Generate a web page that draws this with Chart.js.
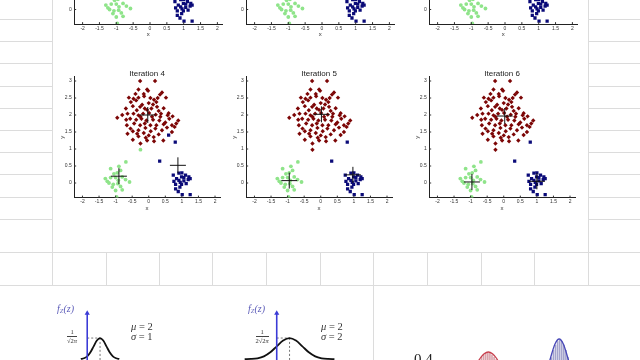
<!DOCTYPE html>
<html><head><meta charset="utf-8">
<script src="https://cdn.jsdelivr.net/npm/chart.js@4.4.1/dist/chart.umd.min.js"></script>
<style>
html,body{margin:0;padding:0;width:640px;height:360px;overflow:hidden;background:#fff;position:relative}
.rule{position:absolute;background:#dcdcdc}
canvas{display:block}
.t{position:absolute;white-space:nowrap;line-height:1;font-family:"Liberation Serif","DejaVu Serif",serif;color:#333}
.fz{color:#5b5bb8;font-size:10px;font-style:italic}
.fz sub{font-size:6.5px;vertical-align:-1px}
.frac{position:absolute;font-family:"Liberation Serif",serif;font-size:6.5px;line-height:1;text-align:center;color:#333}
.frac .n{display:block;border-bottom:0.7px solid #444;padding:0 1px 0.5px}
.frac .d{display:block;padding-top:0.5px}
.par{font-size:10.5px}
</style></head><body>
<script>
// ---------------- DATA ----------------
const xTicks = [-2, -1.5, -1, -0.5, 0, 0.5, 1, 1.5, 2];
const xTickLabels = ['-2', '-1.5', '-1', '-0.5', '0', '0.5', '1', '1.5', '2'];
const yTicks = [0, 0.5, 1, 1.5, 2, 2.5, 3];
const yTickLabels = ['0', '0.5', '1', '1.5', '2', '2.5', '3'];
const panelTitles = ['Iteration 4', 'Iteration 5', 'Iteration 6'];

const redPoints = [
 [-0.26,3.00],[0.19,3.00],[-0.31,2.75],[-0.05,2.75],[-0.02,2.71],[0.40,2.66],[0.34,2.60],[-0.60,2.51],
 [-0.46,2.48],[-0.31,2.51],[-0.14,2.55],[-0.38,2.43],[-0.54,2.38],[0.16,2.45],[0.23,2.38],[0.13,2.31],
 [0.52,2.51],[-0.69,2.19],[-0.48,2.26],[-0.26,2.24],[-0.36,2.14],[-0.12,2.19],[0.08,2.19],[0.25,2.24],
 [-0.95,1.92],[-0.64,2.04],[-0.46,2.04],[-0.31,1.99],[-0.17,2.04],[0.01,2.06],[0.21,2.01],[0.37,2.04],
 [0.57,1.99],[-0.68,1.86],[-0.56,1.89],[-0.38,1.86],[-0.22,1.89],[-0.07,1.84],[0.13,1.86],[0.32,1.84],
 [0.62,1.89],[0.72,1.96],[0.89,1.84],[-0.66,1.70],[-0.44,1.75],[-0.26,1.70],[-0.12,1.75],[0.05,1.70],
 [0.23,1.70],[0.45,1.73],[0.70,1.70],[0.83,1.75],[-0.64,1.45],[-0.48,1.52],[-0.31,1.55],[-0.15,1.47],
 [0.06,1.52],[0.20,1.60],[0.40,1.55],[0.55,1.63],[0.78,1.65],[-0.48,1.27],[-0.31,1.37],[-0.09,1.33],
 [0.15,1.35],[0.30,1.43],[0.44,1.25],[-0.25,1.16],[-0.05,1.25],[0.16,1.23],[-0.20,2.30],[0.00,2.35],
 [-0.05,2.15],[0.30,2.12],[0.45,2.20],[-0.55,1.60],[-0.10,1.62],[0.10,1.95],[-0.25,1.95],[0.50,1.78],
 [-0.40,2.62],[0.05,2.50],[-0.80,2.00],[0.60,2.05],[-0.35,1.45],[0.00,1.40],[0.35,1.95],[-0.15,2.62],
 [0.27,2.50],[0.70,1.50]
];
const greenPoints = [
 [-0.69,0.62],[-0.90,0.49],[-1.15,0.42],[-0.85,0.37],[-1.05,0.27],[-1.31,0.13],[-1.15,0.16],[-1.00,0.16],
 [-0.80,0.18],[-0.58,0.03],[-1.20,0.00],[-1.07,-0.04],[-0.93,-0.02],[-0.85,-0.10],[-1.10,-0.12],[-1.00,-0.22],
 [-0.80,-0.20],[-0.97,-0.41],[-0.92,0.08],[-1.25,0.05],[-0.70,0.10],[-0.95,0.30]
];
const bluePoints = [
 [0.74,0.23],[0.91,0.29],[0.99,0.18],[1.11,0.23],[1.21,0.18],[1.19,0.10],[0.84,0.13],[0.76,0.05],
 [0.91,0.08],[1.06,0.06],[0.81,-0.04],[0.99,-0.04],[1.13,-0.02],[1.25,0.13],[0.94,-0.12],[0.81,-0.17],
 [0.89,-0.25],[1.01,-0.34],[1.25,-0.34],[1.06,0.16],[1.00,0.30],[0.95,0.02]
];
// points whose cluster changes between iterations
const pointA = [-0.25, 0.98];
const pointB = [0.80, 1.20];
const pointC = [0.33, 0.64];
const pointD = [0.60, 1.41];
const iter4Extra = { red: [], green: [pointA], blue: [pointB, pointC, pointD] };
const iter56Extra = { red: [pointA, pointD], green: [], blue: [pointB, pointC] };
// centroids (green, blue, red)
const centroids4 = [[-0.90, 0.20], [0.88, 0.52], [-0.03, 2.00]];
const centroids5 = [[-0.95, 0.07], [0.97, 0.24], [0.02, 2.02]];
const centroids6 = [[-0.96, 0.03], [1.00, 0.05], [0.03, 1.97]];

// bottom normal-curve panels
const curve1Z = [-1, -0.5, 0, 0.5, 1, 1.5, 2, 2.5, 3, 3.5, 4, 4.5, 5];
const curve1F = [0.004, 0.018, 0.054, 0.130, 0.242, 0.352, 0.399, 0.352, 0.242, 0.130, 0.054, 0.018, 0.004];
const curve2Z = [-5, -4, -3, -2, -1, 0, 1, 2, 3, 4, 5, 6, 7, 8, 9];
const curve2F = [0.0004, 0.0022, 0.0088, 0.027, 0.065, 0.121, 0.176, 0.1995, 0.176, 0.121, 0.065, 0.027, 0.0088, 0.0022, 0.0004];
const redBellX = [6.4, 7.4, 7.9, 8.4, 8.9, 9.4, 9.9, 10.4, 10.9, 11.4, 11.9, 12.4, 12.9, 13.4, 14.4];
const redBellY = [0.043, 0.123, 0.187, 0.262, 0.341, 0.415, 0.462, 0.48, 0.462, 0.415, 0.341, 0.262, 0.187, 0.123, 0.043];
const blueBellX = [15.9, 16.4, 16.9, 17.4, 17.9, 18.4, 18.9, 19.4, 19.9, 20.4, 20.9, 21.4, 21.9];
const blueBellY = [0.027, 0.069, 0.153, 0.279, 0.432, 0.560, 0.61, 0.560, 0.432, 0.279, 0.153, 0.069, 0.027];
const redHatchX = [9.15, 9.4, 9.65, 9.9, 10.15, 10.4, 10.65, 10.9, 11.15, 11.4, 11.65];
const redHatchY = [0.37, 0.405, 0.43, 0.452, 0.466, 0.47, 0.466, 0.452, 0.43, 0.405, 0.37];
const blueHatchX = [17.65, 17.9, 18.15, 18.4, 18.65, 18.9, 19.15, 19.4, 19.65, 19.9, 20.15];
const blueHatchY = [0.35, 0.423, 0.496, 0.549, 0.585, 0.598, 0.585, 0.549, 0.496, 0.423, 0.35];

// ---------------- LAYOUT ----------------
const FONT = '"Liberation Sans", Arial, sans-serif';
const RED = '#7c0606', BLUE = '#0a0a78', GREEN = '#8fe48a';

function rule(l, t, w, h) {
  const d = document.createElement('div'); d.className = 'rule';
  d.style.cssText = `left:${l}px;top:${t}px;width:${w}px;height:${h}px`;
  document.body.appendChild(d);
}
[19, 41, 63, 86, 108, 130, 152, 174, 197, 219].forEach(y => { rule(0, y, 52, 1); rule(589, y, 51, 1); });
rule(0, 252, 640, 1); rule(0, 285, 640, 1);
rule(52, 0, 1, 286); rule(588, 0, 1, 286);
[106, 159, 212, 266, 320, 427, 481, 534].forEach(x => rule(x, 252, 1, 33));
rule(373, 252, 1, 108);

function addCanvas(L, T, W, H) {
  const c = document.createElement('canvas');
  c.width = W; c.height = H;
  c.style.cssText = `position:absolute;left:${L}px;top:${T}px;width:${W}px;height:${H}px`;
  document.body.appendChild(c);
  return c;
}
function pts(a) { return a.map(p => ({ x: p[0], y: p[1] })); }

const innerTicks = {
  id: 'innerTicks',
  afterDraw(chart) {
    const { ctx, chartArea: a, scales: { x, y } } = chart;
    ctx.save(); ctx.strokeStyle = '#333'; ctx.lineWidth = 1;
    x.ticks.forEach(t => { const px = x.getPixelForValue(t.value); ctx.beginPath(); ctx.moveTo(px, a.bottom); ctx.lineTo(px, a.bottom - 2); ctx.stroke(); });
    y.ticks.forEach(t => { const py = y.getPixelForValue(t.value); ctx.beginPath(); ctx.moveTo(a.left, py); ctx.lineTo(a.left + 2, py); ctx.stroke(); });
    ctx.restore();
  }
};

const UX = 33.7, UY = 34, XMIN = -2.25, XMAX = 2.15, YMIN = -0.43, YMAX = 3.12;
function scatterPanel(x0, y0, title, red, green, blue, cents) {
  const aL = x0 + XMIN * UX, aR = x0 + XMAX * UX, aT = y0 - YMAX * UY, aB = y0 - YMIN * UY;
  const L = Math.floor(aL) - 22, T = Math.floor(aT) - 22, R = Math.ceil(aR) + 6, B = Math.ceil(aB) + 16;
  const c = addCanvas(L, T, R - L, B - T);
  const yW = aL - L, xH = B - aB;
  const xLabelY = y0 + 25, yLabelX = x0 - 88;
  const datasets = [];
  if (cents) datasets.push({ data: pts(cents), pointStyle: 'cross', pointRadius: 8, pointBorderWidth: 1, pointBorderColor: '#111', pointBackgroundColor: '#111' });
  datasets.push({ data: pts(red), pointStyle: 'rectRot', pointRadius: 2.2, pointBorderWidth: 0, pointBackgroundColor: RED });
  datasets.push({ data: pts(blue), pointStyle: 'rect', pointRadius: 2.3, pointBorderWidth: 0, pointBackgroundColor: BLUE });
  datasets.push({ data: pts(green), pointStyle: 'circle', pointRadius: 1.9, pointBorderWidth: 0, pointBackgroundColor: GREEN });
  new Chart(c, {
    type: 'scatter',
    data: { datasets },
    plugins: [innerTicks],
    options: {
      responsive: false, animation: false, devicePixelRatio: 1,
      layout: { padding: { left: 0, right: R - aR, top: title ? 0 : aT - T, bottom: 0 } },
      plugins: {
        legend: { display: false }, tooltip: { enabled: false },
        title: { display: !!title, text: title || '', fullSize: false, color: '#222',
          font: { family: FONT, size: 8, weight: 'normal', lineHeight: 1 },
          padding: { top: aT - T - 7, bottom: -1 } }
      },
      scales: {
        x: {
          type: 'linear', min: XMIN, max: XMAX,
          afterBuildTicks: s => { s.ticks = xTicks.map(v => ({ value: v })); },
          afterFit: s => { s.height = xH; },
          grid: { drawOnChartArea: false, drawTicks: false },
          border: { display: true, color: '#222', width: 1 },
          ticks: { autoSkip: false, maxRotation: 0, padding: 1.4, color: '#333', font: { family: FONT, size: 5 }, callback: (v, i) => xTickLabels[i] },
          title: { display: true, text: 'x', color: '#333', font: { family: FONT, size: 6, lineHeight: 1 }, padding: { top: 0, bottom: B - xLabelY - 3 } }
        },
        y: {
          type: 'linear', min: YMIN, max: YMAX,
          afterBuildTicks: s => { s.ticks = yTicks.map(v => ({ value: v })); },
          afterFit: s => { s.width = yW; },
          grid: { drawOnChartArea: false, drawTicks: false },
          border: { display: true, color: '#222', width: 1 },
          ticks: { autoSkip: false, padding: 2.5, color: '#333', font: { family: FONT, size: 5 }, callback: (v, i) => yTickLabels[i] },
          title: { display: true, text: 'y', color: '#333', font: { family: FONT, size: 6, lineHeight: 1 }, padding: { top: yLabelX - L - 3, bottom: 0 } }
        }
      }
    }
  });
}

const panelX0 = [150, 322, 505];
const topRowY0 = 9.5, midRowY0 = 183;
const red4 = redPoints.concat(iter4Extra.red), green4 = greenPoints.concat(iter4Extra.green), blue4 = bluePoints.concat(iter4Extra.blue);
const red56 = redPoints.concat(iter56Extra.red), green56 = greenPoints.concat(iter56Extra.green), blue56 = bluePoints.concat(iter56Extra.blue);
// top row (iterations 1-3, mostly scrolled out of view)
panelX0.forEach(x0 => scatterPanel(x0, topRowY0, null, red4, green4, blue4, null));
scatterPanel(panelX0[0], midRowY0, panelTitles[0], red4, green4, blue4, centroids4);
scatterPanel(panelX0[1], midRowY0, panelTitles[1], red56, green56, blue56, centroids5);
scatterPanel(panelX0[2], midRowY0, panelTitles[2], red56, green56, blue56, centroids6);

// ---------------- bottom panels ----------------
function plainChart(L, T, W, H, xmin, xmax, ymin, ymax, datasets) {
  const c = addCanvas(L, T, W, H);
  new Chart(c, {
    type: 'scatter', data: { datasets },
    options: {
      responsive: false, animation: false, devicePixelRatio: 1,
      layout: { padding: 0 },
      plugins: { legend: { display: false }, tooltip: { enabled: false } },
      scales: { x: { type: 'linear', display: false, min: xmin, max: xmax }, y: { type: 'linear', display: false, min: ymin, max: ymax } }
    }
  });
}
function line(xs, ys, color, width, extra) {
  return Object.assign({ data: xs.map((x, i) => ({ x, y: ys[i] })), showLine: true, borderColor: color, borderWidth: width, pointRadius: 0, cubicInterpolationMode: 'monotone' }, extra || {});
}
function normalPanel(L, axisPx, peakZ, zs, fs, peak, unitPx, pxPerY) {
  const T = 300, W = 160, H = 100, base = 360;
  const xmin = (L - axisPx) / unitPx, xmax = (L + W - axisPx) / unitPx;
  const ymax = (base - T) / pxPerY, ymin = (base - T - H) / pxPerY;
  const axisTop = (base - 310) / pxPerY;
  plainChart(L, T, W, H, xmin, xmax, ymin, ymax, [
    line([0, 0], [ymin, axisTop], '#3b3bd6', 1.6, { pointRadius: [0, 3], pointStyle: 'triangle', pointBackgroundColor: '#3b3bd6', pointBorderWidth: 0 }),
    line(zs, fs, '#111', 1.8),
    line([0, peakZ], [peak, peak], '#777', 1, { borderDash: [2, 2] }),
    line([peakZ, peakZ], [peak, ymin], '#777', 1, { borderDash: [2, 2] })
  ]);
}
normalPanel(40, 85.5, 2, curve1Z, curve1F, 0.399, 6.75, 57.6);
normalPanel(220, 275.5, 2, curve2Z, curve2F, 0.1995, 6.75, 115.3);

// right panel: two bells with hatching
(function () {
  const hatch = (xs, ys, color) => ({ type: 'bar', data: xs.map((x, i) => ({ x, y: ys[i] })), backgroundColor: color, barThickness: 1, borderWidth: 0 });
  plainChart(380, 300, 260, 100, 0, 26, 0, 1, [
    line(redBellX, redBellY, '#c8404e', 1.3),
    line(blueBellX, blueBellY, '#4848b8', 1.3),
    hatch(redHatchX, redHatchY, '#d9a3ab'),
    hatch(blueHatchX, blueHatchY, '#a4a4cc')
  ]);
})();

// text of the bottom panels
function txt(html, l, t, cls) {
  const d = document.createElement('div'); d.className = 't ' + (cls || '');
  d.style.left = l + 'px'; d.style.top = t + 'px'; d.innerHTML = html;
  document.body.appendChild(d); return d;
}
function frac(num, den, cx, top) {
  const d = document.createElement('div'); d.className = 'frac';
  d.innerHTML = `<span class="n">${num}</span><span class="d">${den}</span>`;
  d.style.top = top + 'px'; d.style.left = '0px';
  document.body.appendChild(d);
  d.style.left = (cx - d.offsetWidth / 2) + 'px';
}
txt('<i>f</i><sub><i>Z</i></sub>(<i>z</i>)', 57, 304, 'fz');
txt('<i>f</i><sub><i>Z</i></sub>(<i>z</i>)', 248, 304, 'fz');
frac('1', '√2<i>π</i>', 72, 329);
frac('1', '2√2<i>π</i>', 262, 329);
txt('<i>μ</i> = 2', 131, 322, 'par');
txt('<i>σ</i> = 1', 131, 332, 'par');
txt('<i>μ</i> = 2', 321, 322, 'par');
txt('<i>σ</i> = 2', 321, 332, 'par');
const big = txt('0.4', 414, 352, ''); big.style.fontSize = '15px'; big.style.color = '#222';
</script>
</body></html>
